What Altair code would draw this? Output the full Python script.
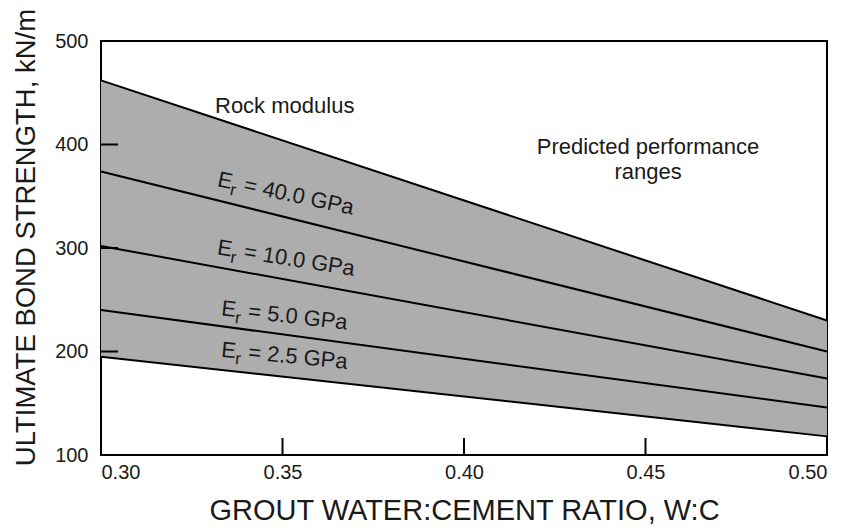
import altair as alt
import pandas as pd

# ---- data ----
wc = [0.30, 0.50]
rock_upper = [462, 230]
er_40 = [374, 200]
er_10 = [302, 174]
er_5 = [240, 146]
er_25 = [195, 118]

x_ticks = [0.30, 0.35, 0.40, 0.45, 0.50]
y_ticks = [100, 200, 300, 400, 500]
inner_x_ticks = [0.35, 0.40, 0.45]
inner_y_ticks = [200, 300, 400]

er_values = ["40.0", "10.0", "5.0", "2.5"]
er_label_x = [0.3318, 0.3318, 0.333, 0.333]
er_label_y = [360, 294, 235, 195]
er_label_angle = [12, 9, 6.5, 5.5]

note_text = ["Rock modulus", "Predicted performance", "ranges"]
note_x = [0.3506, 0.4507, 0.4507]
note_y = [437, 397.5, 373.5]

FONT = "Liberation Sans"
TXT = "#1a1a1a"
W, H = 726, 414

band = pd.DataFrame({"wc": wc, "lo": er_25, "hi": rock_upper})
series = {"upper": rock_upper, "40": er_40, "10": er_10, "5": er_5, "2.5": er_25}
lines = pd.DataFrame(
    [{"wc": x, "val": v, "s": k} for k, vals in series.items() for x, v in zip(wc, vals)]
)
labels = pd.DataFrame({
    "x": er_label_x, "y": er_label_y, "ang": er_label_angle,
    "rest": ["= " + v + " GPa" for v in er_values],
})
notes = pd.DataFrame({"x": note_x, "y": note_y, "t": note_text})
yt = pd.DataFrame({"v": inner_y_ticks})
xt = pd.DataFrame({"v": inner_x_ticks})

xscale = alt.Scale(domain=[0.30, 0.50], nice=False, zero=False)
yscale = alt.Scale(domain=[100, 500], nice=False, zero=False)

xaxis = alt.Axis(
    values=x_ticks, format=".2f", tickSize=0, domain=False, grid=False,
    labelFont=FONT, labelFontSize=20, labelColor=TXT, labelPadding=7,
    title="GROUT WATER:CEMENT RATIO, W:C", titleFont=FONT, titleFontSize=29,
    titleFontWeight="normal", titleColor=TXT, titleY=64, titleBaseline="alphabetic",
)
yaxis = alt.Axis(
    values=y_ticks, format="d", tickSize=0, domain=False, grid=False,
    labelFont=FONT, labelFontSize=20, labelColor=TXT, labelPadding=13,
    title="ULTIMATE BOND STRENGTH, kN/m", titleFont=FONT, titleFontSize=27.5,
    titleFontWeight="normal", titleColor=TXT, titleAngle=270, titleX=-67, titleY=196,
    titleAlign="center", titleBaseline="alphabetic",
)

area = alt.Chart(band).mark_area(color="#adadad", opacity=1).encode(
    x=alt.X("wc:Q", scale=xscale, axis=xaxis),
    y=alt.Y("lo:Q", scale=yscale, axis=yaxis),
    y2="hi:Q",
)
line = alt.Chart(lines).mark_line(color="black", strokeWidth=2).encode(
    x=alt.X("wc:Q", scale=xscale),
    y=alt.Y("val:Q", scale=yscale),
    detail="s:N",
)
ytick = alt.Chart(yt).mark_rule(color="black", strokeWidth=2).encode(
    y=alt.Y("v:Q", scale=yscale), x=alt.value(0), x2=alt.value(17)
)
xtick = alt.Chart(xt).mark_rule(color="black", strokeWidth=2).encode(
    x=alt.X("v:Q", scale=xscale), y=alt.value(H), y2=alt.value(H - 17)
)

def lbl(text_enc, dx, dy, size):
    return alt.Chart(labels).mark_text(
        align="left", baseline="alphabetic", font=FONT, fontSize=size,
        color=TXT, dx=dx, dy=dy,
    ).encode(
        x=alt.X("x:Q", scale=xscale),
        y=alt.Y("y:Q", scale=yscale),
        angle=alt.Angle("ang:Q", scale=None),
        text=text_enc,
    )

e_part = lbl(alt.value("E"), 0, 0, 22)
r_part = lbl(alt.value("r"), 14.5, 6, 17)
rest_part = lbl("rest:N", 27, 0, 22)

note = alt.Chart(notes).mark_text(
    align="center", baseline="middle", font=FONT, fontSize=22, color=TXT
).encode(
    x=alt.X("x:Q", scale=xscale), y=alt.Y("y:Q", scale=yscale), text="t:N"
)

chart = alt.layer(area, line, ytick, xtick, e_part, r_part, rest_part, note).properties(
    width=W, height=H,
    autosize=alt.AutoSizeParams(type="none"),
    padding={"left": 93, "top": 33, "right": 16, "bottom": 70},
).configure(
    background="white",
    view=alt.ViewConfig(stroke="black", strokeWidth=2),
)

chart.save("out.html", embed_options={"renderer": "svg", "actions": False})
